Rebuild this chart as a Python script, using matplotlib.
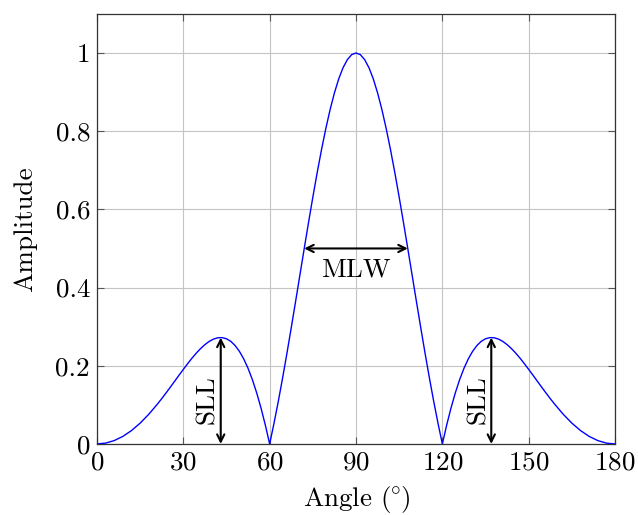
import matplotlib
matplotlib.use("Agg")
import matplotlib.pyplot as plt
from matplotlib.ticker import FuncFormatter

# array factor of a 4-element array (half-wavelength spacing), finer steps where it bends
angle = [0, 3, 6, 9, 12, 15, 18, 21, 22.5, 24, 25.5, 27, 28.5, 30, 31.5, 33, 34.5, 36,
         37.5, 39, 40.5, 42, 43.5, 45, 46.5, 48, 49.5, 51, 52.5, 54, 55.5, 57, 58.5, 60,
         61.5, 63, 64.5, 66, 67.5, 69, 70.5, 72, 73.5, 75, 76.5, 78, 79.5, 81, 82.5, 84,
         85.5, 87, 88.5, 90, 91.5, 93, 94.5, 96, 97.5, 99, 100.5, 102, 103.5, 105, 106.5,
         108, 109.5, 111, 112.5, 114, 115.5, 117, 118.5, 120, 121.5, 123, 124.5, 126,
         127.5, 129, 130.5, 132, 133.5, 135, 136.5, 138, 139.5, 141, 142.5, 144, 145.5,
         147, 148.5, 150, 151.5, 153, 154.5, 156, 157.5, 159, 162, 165, 168, 171, 174,
         177, 180]
amplitude = [0.0, 0.0021, 0.0086, 0.0193, 0.0342, 0.0532, 0.0759, 0.1019, 0.1159,
             0.1304, 0.1453, 0.1605, 0.1757, 0.1906, 0.2053, 0.2193, 0.2322, 0.2439,
             0.2540, 0.2623, 0.2682, 0.2716, 0.2719, 0.2690, 0.2623, 0.2516, 0.2367,
             0.2173, 0.1932, 0.1643, 0.1304, 0.0917, 0.0481, 0.0, 0.0525, 0.1089,
             0.1689, 0.2318, 0.2972, 0.3640, 0.4317, 0.4993, 0.5662, 0.6312, 0.6935,
             0.7522, 0.8063, 0.8552, 0.8979, 0.9339, 0.9624, 0.9831, 0.9958, 1.0,
             0.9958, 0.9831, 0.9624, 0.9339, 0.8979, 0.8552, 0.8063, 0.7522, 0.6935,
             0.6312, 0.5662, 0.4993, 0.4317, 0.3640, 0.2972, 0.2318, 0.1689, 0.1089,
             0.0525, 0.0, 0.0481, 0.0917, 0.1304, 0.1643, 0.1932, 0.2173, 0.2367,
             0.2516, 0.2623, 0.2690, 0.2719, 0.2716, 0.2682, 0.2623, 0.2540, 0.2439,
             0.2322, 0.2193, 0.2053, 0.1906, 0.1757, 0.1605, 0.1453, 0.1304, 0.1159,
             0.1019, 0.0759, 0.0532, 0.0342, 0.0193, 0.0086, 0.0021, 0.0]

# side lobe peaks and main lobe width at half amplitude
sll_angles = [43, 137]
sll_level = 0.272
mlw_left, mlw_right, mlw_level = 72, 108, 0.5

xticks = [0, 30, 60, 90, 120, 150, 180]
yticks = [0, 0.2, 0.4, 0.6, 0.8, 1.0]

FS = 19.5

plt.rcParams['font.family'] = ['cmr10', 'DejaVu Serif']
plt.rcParams['mathtext.fontset'] = 'cm'
plt.rcParams['axes.unicode_minus'] = False
plt.rcParams['axes.formatter.use_mathtext'] = True

fig = plt.figure(figsize=(6.38, 5.15), dpi=100)
ax = fig.add_axes([0.152, 0.138, 0.812, 0.835])

ax.plot(angle, amplitude, color='#0000ff', lw=1.0, zorder=3)

arrow = dict(arrowstyle='<->', color='black', lw=1.5, shrinkA=0, shrinkB=0,
             mutation_scale=13)
for a in sll_angles:
    ax.annotate('', xy=(a, sll_level), xytext=(a, 0), arrowprops=arrow, zorder=4)
    ax.text(a - 4.6, 0.113, 'SLL', rotation=90, ha='center', va='center', fontsize=FS)

ax.annotate('', xy=(mlw_left, mlw_level), xytext=(mlw_right, mlw_level),
            arrowprops=arrow, zorder=4)
ax.text(90, 0.446, 'MLW', ha='center', va='center', fontsize=FS)

ax.set_xlim(0, 180)
ax.set_ylim(0, 1.1)
ax.set_xticks(xticks)
ax.set_yticks(yticks)
ax.yaxis.set_major_formatter(FuncFormatter(lambda v, p: '%g' % v))
ax.grid(True, color='#c4c4c4', lw=0.8)
ax.set_axisbelow(True)
ax.tick_params(direction='in', length=5, width=0.8, color='#555555',
               top=True, right=True, labelsize=FS, pad=5)
for s in ax.spines.values():
    s.set_color('#333333')
    s.set_linewidth(0.9)

ax.set_xlabel(r'Angle $(\hspace{-0.06}^{\circ}\hspace{-0.08})$', fontsize=FS, labelpad=7)
ax.set_ylabel('Amplitude', fontsize=FS, labelpad=13)

fig.savefig('out.png', dpi=100)
